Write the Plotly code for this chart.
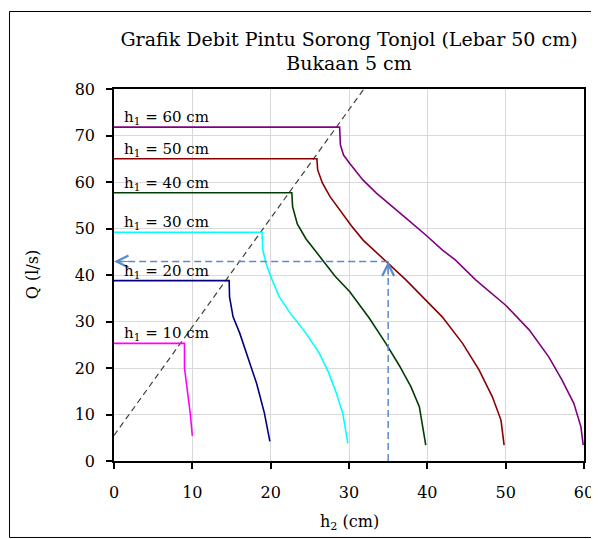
import plotly.graph_objects as go

# data: h2 (cm) vs Q (l/s) for each upstream depth h1
h1_labels = ['h<sub>1</sub> = 10 cm', 'h<sub>1</sub> = 20 cm', 'h<sub>1</sub> = 30 cm',
             'h<sub>1</sub> = 40 cm', 'h<sub>1</sub> = 50 cm', 'h<sub>1</sub> = 60 cm']

h2_10 = [0, 9.0, 9.0, 9.4, 9.75, 10.0]
q_10 = [25.3, 25.3, 20.0, 15.0, 10.0, 5.4]

h2_20 = [0, 14.7, 14.75, 15.2, 16.05, 17.1, 18.2, 19.2, 19.9]
q_20 = [38.8, 38.8, 35.3, 31.0, 27.5, 22.4, 16.7, 10.3, 4.2]

h2_30 = [0, 18.9, 19.0, 19.4, 20.1, 21.1, 22.5, 24.5, 26.2, 27.4, 28.4, 29.2, 29.85]
q_30 = [49.2, 49.2, 45.4, 42.5, 39.3, 35.3, 31.8, 27.5, 23.2, 19.0, 14.5, 10.3, 3.8]

h2_40 = [0, 22.7, 22.8, 23.4, 24.5, 26.2, 28.2, 30.1, 32.6, 34.7, 36.4, 37.9, 38.98, 39.8]
q_40 = [57.7, 57.7, 54.7, 51.0, 47.8, 44.2, 39.8, 36.4, 30.7, 25.3, 20.6, 16.0, 11.7, 3.4]

h2_50 = [0, 25.9, 26.0, 26.6, 27.6, 28.8, 30.3, 31.8, 34.7, 37.3, 39.8, 41.9, 44.5, 46.6, 48.3, 49.4, 49.8]
q_50 = [65.0, 65.0, 62.6, 59.8, 56.8, 54.0, 50.6, 47.5, 42.9, 38.9, 34.6, 31.0, 25.3, 19.6, 13.8, 8.8, 3.4]

h2_60 = [0, 28.8, 28.9, 29.3, 30.1, 31.8, 33.5, 35.2, 37.5, 39.8, 41.9, 43.6, 46.2, 50.0, 53.0, 55.5, 57.2, 58.7, 59.6, 59.9]
q_60 = [71.8, 71.8, 68.0, 65.8, 64.0, 60.4, 57.6, 55.1, 51.9, 48.6, 45.4, 43.2, 38.9, 33.5, 28.2, 22.4, 17.4, 12.4, 7.4, 3.4]

# garis kritis (dashed)
diag_x = [0, 31.9]
diag_y = [5.5, 80]

# contoh pembacaan: h2 = 35 cm -> Q
read_h2 = 35
read_q = 42.9

warna = ['#FF00FF', '#000080', '#00FFFF', '#003D00', '#8B0000', '#800080']
kurva = [(h2_10, q_10), (h2_20, q_20), (h2_30, q_30),
         (h2_40, q_40), (h2_50, q_50), (h2_60, q_60)]

font_serif = 'DejaVu Serif'

fig = go.Figure()

fig.add_trace(go.Scatter(x=diag_x, y=diag_y, mode='lines',
                         line=dict(color='#404040', width=1.2, dash='6px,4px')))

for (xs, ys), c in zip(kurva, warna):
    fig.add_trace(go.Scatter(x=xs, y=ys, mode='lines', line=dict(color=c, width=1.6)))

biru = '#5B8BCB'
fig.add_trace(go.Scatter(x=[read_h2, 0], y=[read_q, read_q], mode='lines',
                         line=dict(color=biru, width=1.5, dash='7px,4px')))
fig.add_trace(go.Scatter(x=[read_h2, read_h2], y=[0, read_q], mode='lines',
                         line=dict(color=biru, width=1.5, dash='7px,4px')))

# panah
fig.add_annotation(x=0, y=read_q, ax=16, ay=0, text='', showarrow=True,
                   arrowhead=5, arrowsize=2.6, arrowwidth=0.9, arrowcolor=biru, standoff=0)
fig.add_annotation(x=read_h2, y=read_q, ax=0, ay=16, text='', showarrow=True,
                   arrowhead=5, arrowsize=2.6, arrowwidth=0.9, arrowcolor=biru, standoff=0)

# label h1
for lab, (xs, ys) in zip(h1_labels, kurva):
    fig.add_annotation(x=1.0, y=ys[0], text=lab, showarrow=False,
                       xanchor='left', yanchor='bottom', yshift=-2,
                       font=dict(family=font_serif, size=15, color='black'))

# judul sumbu
fig.add_annotation(x=0.5, y=-0.166, xref='paper', yref='paper', text='h<sub>2</sub> (cm)',
                   showarrow=False, xanchor='center', yanchor='middle',
                   font=dict(family=font_serif, size=16, color='black'))
fig.add_annotation(x=-0.174, y=0.5, xref='paper', yref='paper', text='Q (l/s)',
                   showarrow=False, xanchor='center', yanchor='middle', textangle=-90,
                   font=dict(family=font_serif, size=16, color='black'))

# bingkai luar
fig.add_shape(type='rect', xref='paper', yref='paper',
              x0=-0.2223, x1=1.0287, y0=-0.2056, y1=1.2083,
              line=dict(color='black', width=1))

fig.update_layout(
    width=599, height=539,
    margin=dict(l=106, r=23, t=81, b=86),
    paper_bgcolor='white', plot_bgcolor='white',
    showlegend=False,
    font=dict(family=font_serif, size=16, color='black'),
    title=dict(text='Grafik Debit Pintu Sorong Tonjol (Lebar 50 cm)<br>Bukaan 5 cm',
               x=0.5, xref='paper', xanchor='center',
               y=0.930, yanchor='top', font=dict(family=font_serif, size=19, color='black')),
)

fig.update_xaxes(range=[0, 60], dtick=10, showgrid=True, gridcolor='#D9D9D9', gridwidth=1,
                 showline=True, linecolor='black', linewidth=1.5, mirror=True,
                 ticks='outside', ticklen=6, tickcolor='black', tickwidth=1.5,
                 ticklabelstandoff=10, zeroline=False, automargin=False)
fig.update_yaxes(range=[0, 80], dtick=10, showgrid=True, gridcolor='#D9D9D9', gridwidth=1,
                 showline=True, linecolor='black', linewidth=1.5, mirror=True,
                 ticks='outside', ticklen=6, tickcolor='black', tickwidth=1.5,
                 ticklabelstandoff=8, zeroline=False, automargin=False)

fig.write_html('out.html')
